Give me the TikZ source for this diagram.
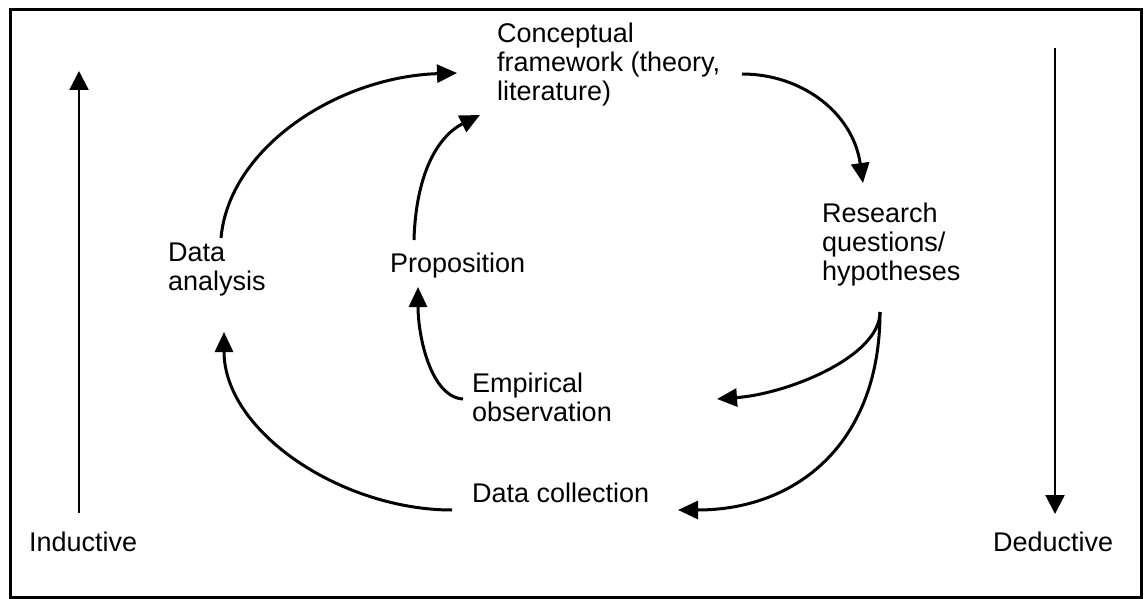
\documentclass[tikz,border=0pt]{standalone}
\usepackage{fontspec}
\setmainfont{Liberation Sans}
\usetikzlibrary{arrows.meta}
\begin{document}
\begin{tikzpicture}[x=1pt,y=-1pt,
  lbl/.style={anchor=north west, inner sep=0pt, align=left,
              font=\fontsize{27}{29}\selectfont},
  flow/.style={line width=3pt, -{Triangle[length=20pt,width=18pt]}},
  axisarrow/.style={line width=2.2pt, -{Triangle[length=19pt,width=19pt]}}]
\useasboundingbox (0,0) rectangle (1148,599);

% outer frame
\draw[line width=3pt] (10,10) rectangle (1141,597);

% labels
\node[lbl] (concept) at (497,23) {Conceptual\\framework (theory,\\literature)};
\node[lbl] (research) at (822,203) {Research\\questions/\\hypotheses};
\node[lbl] (analysis) at (168,243) {Data\\analysis};
\node[lbl] (prop) at (390,253) {Proposition};
\node[lbl] (empir) at (472,373) {Empirical\\observation};
\node[lbl] (collect) at (472,483) {Data collection};
\node[lbl] (induct) at (29,532) {Inductive};
\node[lbl] (deduct) at (993,532) {Deductive};

% inductive / deductive directions
\draw[axisarrow] ([shift={(50,-19)}]induct.north west) -- ([shift={(50,-461)}]induct.north west);
\draw[axisarrow] ([shift={(62,-484)}]deduct.north west) -- ([shift={(62,-18)}]deduct.north west);

% research cycle
\draw[flow] ([shift={(53,-5)}]analysis.north west)
  .. controls +(8,-90) and +(-120,4) .. ([shift={(-40,50)}]concept.north west);
\draw[flow] ([shift={(24,-13)}]prop.north west)
  .. controls +(2,-70) and +(-40,20) .. ([shift={(-17,92)}]concept.north west);
\draw[flow] ([shift={(245,51)}]concept.north west)
  .. controls +(60,0) and +(-10,-70) .. ([shift={(41,-20)}]research.north west);
\draw[flow] ([shift={(58,109)}]research.north west)
  .. controls +(0,45) and +(70,-5) .. ([shift={(245,26)}]empir.north west);
\draw[flow] ([shift={(58,109)}]research.north west)
  .. controls +(0,130) and +(120,0) .. ([shift={(206,27)}]collect.north west);
\draw[flow] ([shift={(-9,26)}]empir.north west)
  .. controls +(-32,-2) and +(0,50) .. ([shift={(28,34)}]prop.north west);
\draw[flow] ([shift={(-20,27)}]collect.north west)
  .. controls +(-110,0) and +(0,100) .. ([shift={(56,89)}]analysis.north west);
\end{tikzpicture}
\end{document}
